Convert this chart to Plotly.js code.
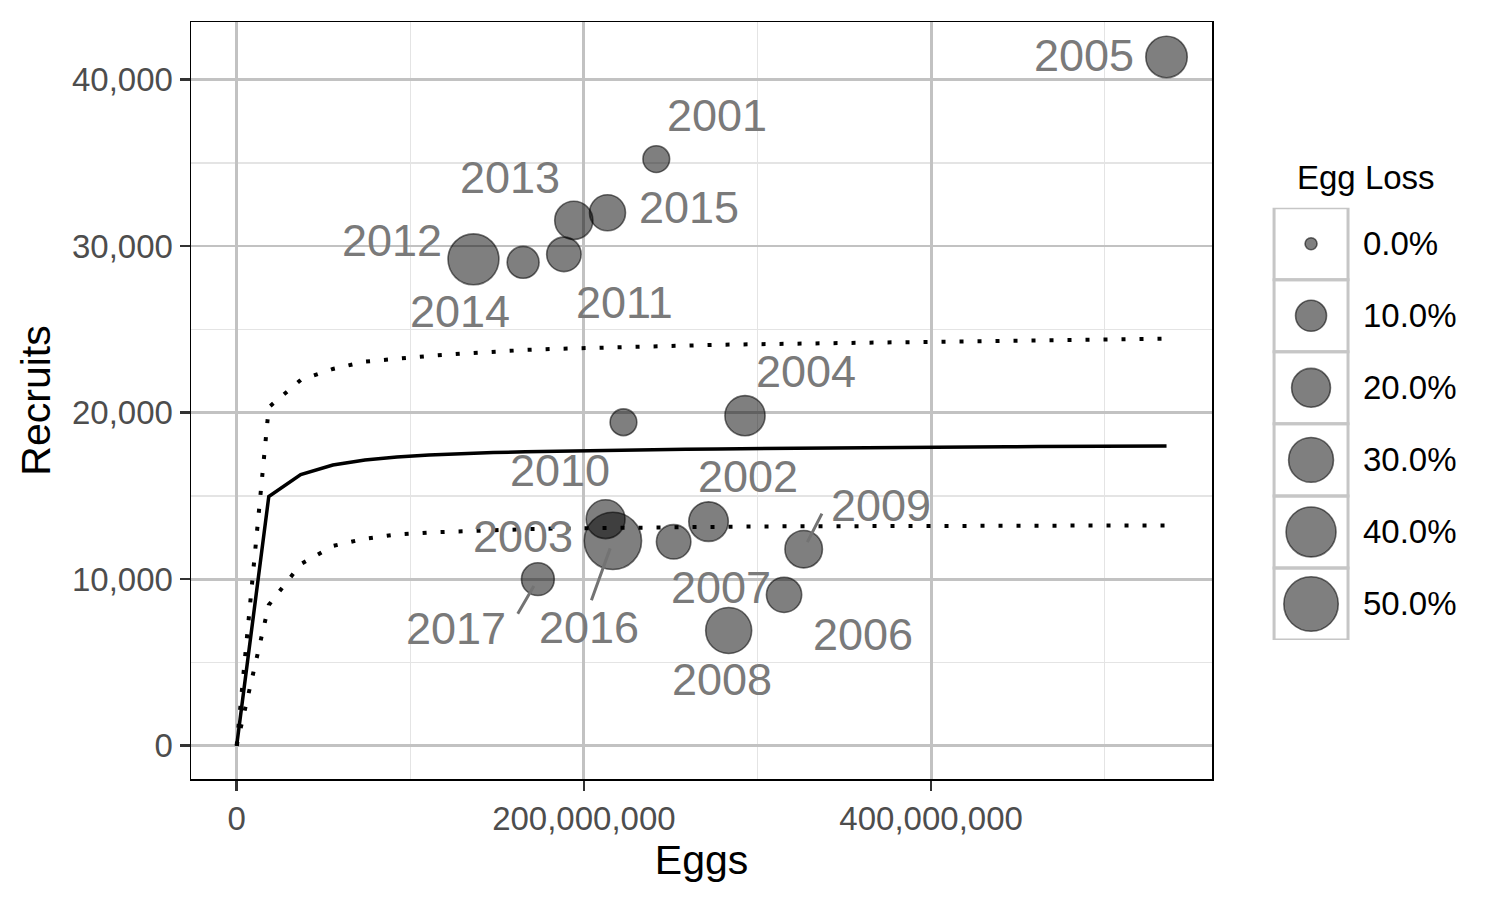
<!DOCTYPE html>
<html>
<head>
<meta charset="utf-8">
<script src="https://cdn.plot.ly/plotly-3.0.1.min.js"></script>
<style>
  body { margin: 0; background: #fff; }
  #chart { width: 1500px; height: 900px; }
</style>
</head>
<body>
<div id="chart"></div>
<script>
// observed years
const years = [2001, 2002, 2003, 2004, 2005, 2006, 2007, 2008, 2009,
               2010, 2011, 2012, 2013, 2014, 2015, 2016, 2017]
const eggs = [241.7e6, 271.8e6, 212.5e6, 292.8e6, 535.6e6, 315.3e6, 251.7e6, 283.4e6, 326.6e6,
              222.8e6, 188.5e6, 136.4e6, 194.2e6, 165.0e6, 213.6e6, 216.7e6, 173.5e6]
const recruits = [35220, 13455, 13600, 19815, 41350, 9060, 12240, 6917, 11800,
                  19420, 29500, 29200, 31540, 29020, 32000, 12300, 10000]
const eggLoss = [0.06, 0.21, 0.20, 0.22, 0.24, 0.15, 0.14, 0.32, 0.18,
                 0.06, 0.14, 0.42, 0.19, 0.11, 0.16, 0.57, 0.12]

// fitted stock-recruit curve and interval (millions of eggs)
const fitEggsM = [0, 18.5, 36.9, 55.4, 73.9, 92.3, 110.8, 129.3, 147.8, 166.2,
                  184.7, 203.2, 221.6, 240.1, 258.6, 277.0, 295.5, 314.0, 332.4, 350.9,
                  369.4, 387.8, 406.3, 424.8, 443.3, 461.7, 480.2, 498.7, 517.1, 535.6]
const fitMid = [0, 14955, 16280, 16850, 17150, 17330, 17450, 17540, 17600, 17650,
                17690, 17720, 17750, 17780, 17800, 17820, 17840, 17860, 17870, 17890,
                17900, 17910, 17920, 17940, 17950, 17960, 17970, 17980, 17990, 18000]
const fitUpper = [0, 20320, 21960, 22620, 23060, 23250, 23400, 23540, 23680, 23760,
                  23830, 23890, 23940, 23990, 24030, 24070, 24100, 24130, 24160, 24180,
                  24200, 24220, 24250, 24270, 24300, 24320, 24350, 24380, 24410, 24440]
const fitLower = [0, 8450, 10900, 11990, 12430, 12680, 12800, 12880, 12950, 13000,
                  13040, 13070, 13100, 13120, 13140, 13150, 13160, 13170, 13180, 13190,
                  13195, 13200, 13205, 13210, 13210, 13215, 13215, 13220, 13220, 13220]

// size legend
const legendBreaks = [0, 0.1, 0.2, 0.3, 0.4, 0.5]

// label placement (pixels from the point), like ggrepel put them
const labelNudge = {
    2001: [61, -44], 2002: [39, -45], 2003: [-83, 17], 2004: [61, -44],
    2005: [-83, -1], 2006: [79, 40], 2007: [47, 46], 2008: [-7, 49],
    2009: [77, -44], 2010: [-63, 48], 2011: [61, 48], 2012: [-81, -19],
    2013: [-64, -43], 2014: [-63, 49], 2015: [81, -5], 2016: [-24, 87],
    2017: [-82, 49]
}
// repel segments: tail offset from the point
const labelSegment = {
    2009: [19, -37], 2016: [-22, 61], 2017: [-21, 36]
}

const font = "Liberation Sans, Arial, Helvetica, sans-serif"
const pointSize = v => 12 + 60 * Math.sqrt(v)
const eggsFit = fitEggsM.map(e => e * 1e6)

// legend sits right of the panel, in paper units
const legendLeft = 0.8274, legendRight = 0.8839

let lineMid = {
    x: eggsFit, y: fitMid, mode: "lines", type: "scatter",
    line: {color: "#000", width: 3.5}, hoverinfo: "skip", showlegend: false
}
let lineUpper = {
    x: eggsFit, y: fitUpper, mode: "lines", type: "scatter",
    line: {color: "#000", width: 4, dash: "4px,14px"}, hoverinfo: "skip", showlegend: false
}
let lineLower = {
    x: eggsFit, y: fitLower, mode: "lines", type: "scatter",
    line: {color: "#000", width: 4, dash: "4px,14px"}, hoverinfo: "skip", showlegend: false
}
let points = {
    x: eggs, y: recruits, mode: "markers", type: "scatter",
    marker: {
        size: eggLoss.map(pointSize),
        opacity: 1,
        color: "rgba(0,0,0,0.5)",
        line: {color: "rgba(0,0,0,0.55)", width: 1.6}
    },
    showlegend: false
}
let legendPoints = {
    x: legendBreaks.map(() => 0.5),
    y: legendBreaks.map((b, i) => 5.5 - i),
    xaxis: "x2", yaxis: "y2",
    mode: "markers", type: "scatter",
    marker: {
        size: legendBreaks.map(pointSize),
        opacity: 1,
        color: "rgba(0,0,0,0.5)",
        line: {color: "rgba(0,0,0,0.55)", width: 1.6}
    },
    showlegend: false, hoverinfo: "skip"
}

let annotations = []
years.forEach((yr, i) => {
    let seg = labelSegment[yr]
    if (seg) {
        annotations.push({
            x: eggs[i], y: recruits[i], text: "", showarrow: true,
            ax: seg[0], ay: seg[1], arrowhead: 0, arrowwidth: 3,
            arrowcolor: "#737373", standoff: 8
        })
    }
    annotations.push({
        x: eggs[i], y: recruits[i], text: String(yr), showarrow: false,
        xshift: labelNudge[yr][0], yshift: -labelNudge[yr][1],
        font: {family: font, size: 45, color: "#7a7a7a"}
    })
})
legendBreaks.forEach((b, i) => {
    annotations.push({
        xref: "paper", yref: "y2", x: 0.8935, y: 5.5 - i,
        xanchor: "left", yanchor: "middle",
        text: (b * 100).toFixed(1) + "%", showarrow: false,
        font: {family: font, size: 33, color: "#000"}
    })
})
annotations.push({
    xref: "paper", yref: "paper", x: 0.8976, y: 0.794,
    xanchor: "center", yanchor: "middle",
    text: "Egg Loss", showarrow: false,
    font: {family: font, size: 33, color: "#000"}
})

let shapes = legendBreaks.map((b, i) => ({
    type: "rect", xref: "paper", yref: "y2", x0: legendLeft, x1: legendRight, y0: 5 - i, y1: 6 - i,
    line: {color: "#c6c6c6", width: 3}, fillcolor: "rgba(0,0,0,0)", layer: "above"
}))

let layout = {
    width: 1500, height: 900,
    margin: {l: 191, r: 0, t: 22, b: 121},
    paper_bgcolor: "#fff", plot_bgcolor: "#fff",
    font: {family: font},
    xaxis: {
        domain: [0, 0.78],
        range: [-26.3e6, 561.8e6],
        tick0: 0, dtick: 200e6, tickformat: ",d",
        ticks: "outside", ticklen: 10, tickwidth: 2.5, tickcolor: "#333",
        tickfont: {family: font, size: 33, color: "#4d4d4d"},
        showline: true, mirror: true, linecolor: "#000", linewidth: 1.5,
        showgrid: true, gridcolor: "#c2c2c2", gridwidth: 2.8, zeroline: false,
        minor: {tick0: 0, dtick: 100e6, showgrid: true, gridcolor: "#e4e4e4", gridwidth: 1.5},
        title: {text: "Eggs", font: {family: font, size: 41, color: "#000"}, standoff: 6},
        automargin: false
    },
    yaxis: {
        range: [-1998, 43450],
        tick0: 0, dtick: 10000, tickformat: ",d",
        ticks: "outside", ticklen: 10, tickwidth: 2.5, tickcolor: "#333",
        tickfont: {family: font, size: 33, color: "#4d4d4d"},
        showline: true, mirror: true, linecolor: "#000", linewidth: 1.5,
        showgrid: true, gridcolor: "#c2c2c2", gridwidth: 2.8, zeroline: false,
        minor: {tick0: 0, dtick: 5000, showgrid: true, gridcolor: "#e4e4e4", gridwidth: 1.5},
        title: {text: "Recruits", font: {family: font, size: 41, color: "#000"}, standoff: 8},
        automargin: false
    },
    xaxis2: {
        domain: [legendLeft, legendRight], range: [0, 1], anchor: "y2",
        visible: false, fixedrange: true
    },
    yaxis2: {
        domain: [0.1836, 0.7547], range: [0, 6], anchor: "x2",
        visible: false, fixedrange: true
    },
    annotations: annotations,
    shapes: shapes
}

Plotly.newPlot("chart", [lineMid, lineUpper, lineLower, points, legendPoints], layout,
    {displayModeBar: false, staticPlot: true})
</script>
</body>
</html>
